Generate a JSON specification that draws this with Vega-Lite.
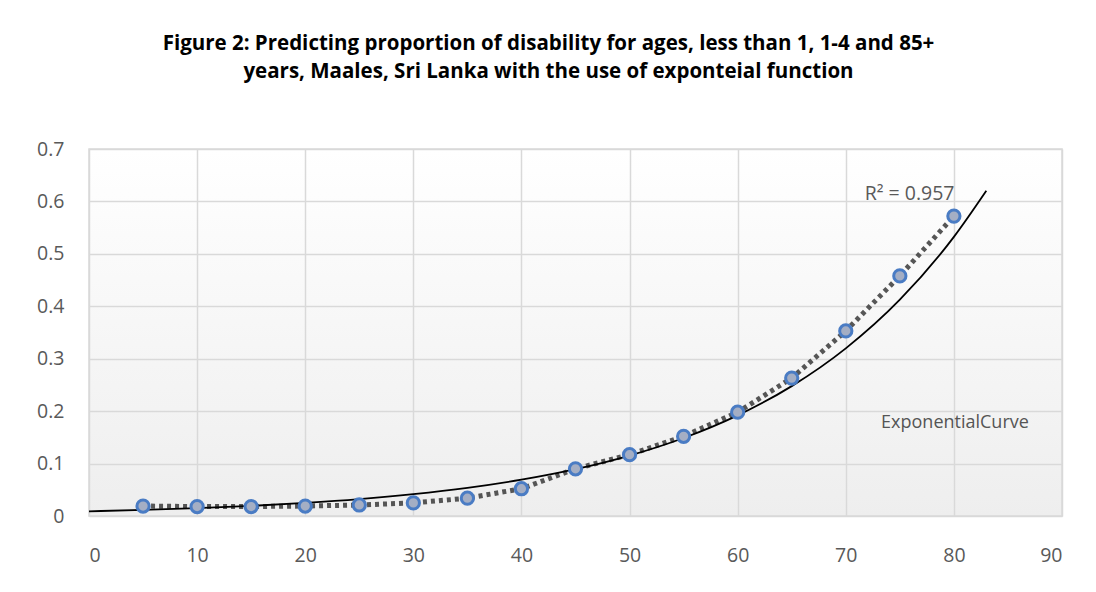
{
  "$schema": "https://vega.github.io/schema/vega-lite/v6.json",
  "width": 973,
  "height": 367,
  "autosize": "none",
  "padding": {"left": 89, "top": 149, "right": 34, "bottom": 76},
  "background": "white",
  "title": {
    "text": ["Figure 2: Predicting proportion of disability for ages, less than 1, 1-4 and 85+", "years, Maales, Sri Lanka with the use of exponteial function"],
    "font": "Open Sans",
    "fontSize": 20.5,
    "fontWeight": "bold",
    "color": "#000000",
    "anchor": "middle",
    "dx": -27,
    "offset": 57,
    "lineHeight": 28
  },
  "config": {
    "view": {"stroke": "#d9d9d9", "strokeWidth": 1.5, "fill": {"gradient": "linear", "x1": 0, "y1": 0, "x2": 0, "y2": 1, "stops": [{"offset": 0, "color": "#ffffff"}, {"offset": 1, "color": "#eeeeee"}]}},
    "axis": {
      "labelFont": "Open Sans",
      "labelFontSize": 19.5,
      "labelColor": "#595959",
      "gridColor": "#d9d9d9",
      "gridWidth": 1.5,
      "domain": false,
      "ticks": false,
      "title": null
    }
  },
  "datasets": {
    "points": [
      {"age": 5, "prop": 0.019},
      {"age": 10, "prop": 0.018},
      {"age": 15, "prop": 0.018},
      {"age": 20, "prop": 0.019},
      {"age": 25, "prop": 0.021},
      {"age": 30, "prop": 0.025},
      {"age": 35, "prop": 0.034},
      {"age": 40, "prop": 0.052},
      {"age": 45, "prop": 0.090},
      {"age": 50, "prop": 0.117},
      {"age": 55, "prop": 0.152},
      {"age": 60, "prop": 0.198},
      {"age": 65, "prop": 0.263},
      {"age": 70, "prop": 0.353},
      {"age": 75, "prop": 0.458},
      {"age": 80, "prop": 0.572}
    ],
    "curve": [
      {"age": 0, "prop": 0.0090},
      {"age": 5, "prop": 0.0116},
      {"age": 10, "prop": 0.0150},
      {"age": 15, "prop": 0.0193},
      {"age": 20, "prop": 0.0250},
      {"age": 25, "prop": 0.0322},
      {"age": 30, "prop": 0.0416},
      {"age": 35, "prop": 0.0536},
      {"age": 40, "prop": 0.0692},
      {"age": 45, "prop": 0.0893},
      {"age": 50, "prop": 0.1153},
      {"age": 55, "prop": 0.1488},
      {"age": 60, "prop": 0.1920},
      {"age": 65, "prop": 0.2477},
      {"age": 70, "prop": 0.3197},
      {"age": 75, "prop": 0.4125},
      {"age": 80, "prop": 0.5324},
      {"age": 83, "prop": 0.6204}
    ],
    "labels": [
      {"age": 75.9, "prop": 0.614, "label": "R² = 0.957", "kind": "r2"},
      {"age": 80.1, "prop": 0.177, "label": "ExponentialCurve", "kind": "curve"}
    ]
  },
  "layer": [
    {
      "data": {"name": "points"},
      "mark": {"type": "line", "color": "#444444", "strokeWidth": 5, "strokeDash": [4, 4], "opacity": 0.9},
      "encoding": {
        "x": {"field": "age", "type": "quantitative", "scale": {"domain": [0, 90]}, "axis": {"values": [0,10,20,30,40,50,60,70,80,90], "labelPadding": 30, "labelFontSize": 19.5, "grid": true}},
        "y": {"field": "prop", "type": "quantitative", "scale": {"domain": [0, 0.7]}, "axis": {"values": [0,0.1,0.2,0.3,0.4,0.5,0.6,0.7], "labelPadding": 25, "labelFontSize": 19.5, "format": "~g"}}
      }
    },
    {
      "data": {"name": "curve"},
      "mark": {"type": "line", "color": "#000000", "strokeWidth": 1.8, "interpolate": "monotone"},
      "encoding": {
        "x": {"field": "age", "type": "quantitative"},
        "y": {"field": "prop", "type": "quantitative"}
      }
    },
    {
      "data": {"name": "points"},
      "mark": {"type": "point", "shape": "circle", "filled": true, "fill": "#a4aec4", "stroke": "#4a7cc4", "strokeWidth": 3, "size": 150, "opacity": 1},
      "encoding": {
        "x": {"field": "age", "type": "quantitative"},
        "y": {"field": "prop", "type": "quantitative"}
      }
    },
    {
      "data": {"name": "labels"},
      "transform": [{"filter": "datum.kind == 'r2'"}],
      "mark": {"type": "text", "font": "Open Sans", "fontSize": 19.5, "color": "#595959"},
      "encoding": {
        "x": {"field": "age", "type": "quantitative"},
        "y": {"field": "prop", "type": "quantitative"},
        "text": {"field": "label"}
      }
    },
    {
      "data": {"name": "labels"},
      "transform": [{"filter": "datum.kind == 'curve'"}],
      "mark": {"type": "text", "font": "Open Sans", "fontSize": 18, "color": "#555555", "letterSpacing": -0.4},
      "encoding": {
        "x": {"field": "age", "type": "quantitative"},
        "y": {"field": "prop", "type": "quantitative"},
        "text": {"field": "label"}
      }
    }
  ]
}
